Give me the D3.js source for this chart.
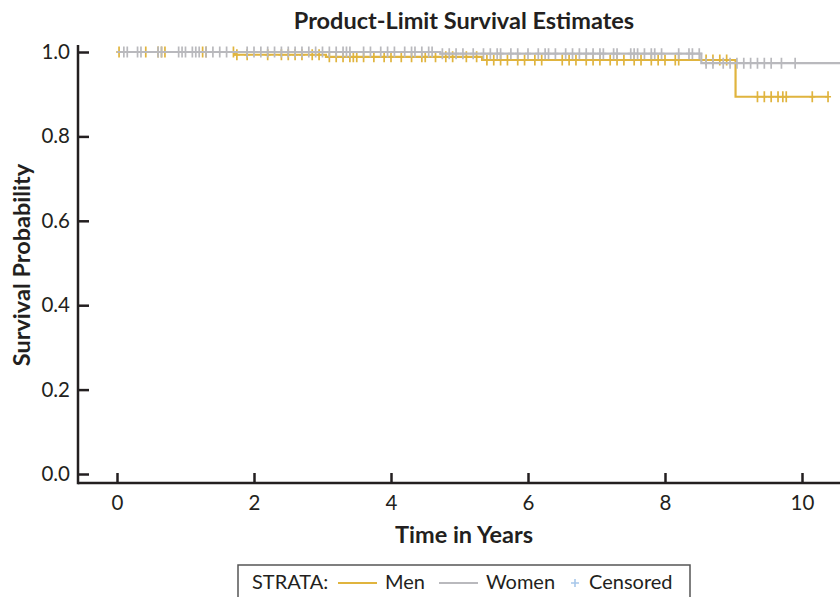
<!DOCTYPE html>
<html>
<head>
<meta charset="utf-8">
<script src="https://cdn.jsdelivr.net/npm/d3@7"></script>
<style>
  html, body { margin: 0; padding: 0; background: #fff; }
  svg { display: block; font-family: Lato, "Open Sans", sans-serif; }
</style>
</head>
<body>
<svg id="chart" width="840" height="597"></svg>
<script>
// Kaplan-Meier step estimates per stratum (time in years, survival after the event)
const menEventTimes = [1.72, 3.05, 5.33, 9.03];
const menSurvival = [0.9935, 0.9885, 0.981, 0.894];
const menLastTime = 10.38;

const womenEventTimes = [4.72, 8.53];
const womenSurvival = [0.996, 0.9735];
const womenLastTime = 10.62;

// Censored observation times
const menCensored = [0.03, 0.42, 0.6, 0.65, 0.7, 1.25, 1.3, 1.7,
  1.75, 1.9, 2.2, 2.4, 2.5, 2.6, 2.7, 2.85, 2.95, 3.1, 3.2, 3.3, 3.4, 3.45,
  3.5, 3.6, 3.75, 3.9, 4.0, 4.15, 4.3, 4.45, 4.5, 4.65, 4.8, 4.9, 5.1, 5.25,
  5.4, 5.5, 5.6, 5.7, 5.85, 5.95, 6.1, 6.2, 6.5, 6.6, 6.7, 6.85, 6.95,
  7.05, 7.2, 7.3, 7.4, 7.55, 7.65, 7.8, 7.9, 8.0, 8.15, 8.2, 8.6, 8.7, 8.8, 8.9,
  9.35, 9.45, 9.55, 9.65, 9.72, 9.77, 10.15, 10.38];
const womenCensored = [0.1, 0.15, 0.3, 0.35, 0.6, 0.65, 0.9, 0.95, 1.0, 1.1, 1.15, 1.2,
  1.3, 1.4, 1.5, 1.6, 1.9, 2.0, 2.1, 2.2, 2.3, 2.4, 2.5, 2.6, 2.7, 2.8, 2.9, 3.0,
  3.1, 3.2, 3.3, 3.35, 3.4, 3.6, 3.7, 3.85, 3.95, 4.05, 4.2, 4.3, 4.35, 4.45, 4.55,
  4.6, 4.75, 4.85, 4.95, 5.05, 5.2, 5.35, 5.45, 5.55, 5.6, 5.75, 5.85, 6.0, 6.15,
  6.25, 6.3, 6.4, 6.55, 6.65, 6.75, 6.85, 6.95, 7.05, 7.1, 7.25, 7.3, 7.5, 7.55,
  7.6, 7.7, 7.8, 7.85, 7.95, 8.2, 8.35, 8.4, 8.5, 8.6, 8.7, 8.85, 8.95, 9.05, 9.15,
  9.25, 9.35, 9.45, 9.55, 9.7, 9.9, 10.62];

const xTicks = [0, 2, 4, 6, 8, 10];
const yTicks = [0.0, 0.2, 0.4, 0.6, 0.8, 1.0];

const colors = { men: "#E0B43E", women: "#B9B9BD", censor: "#A8C8EA", axis: "#231F20" };

const svg = d3.select("#chart");
const x = d3.scaleLinear().domain([0, 10]).range([117, 802]);
const y = d3.scaleLinear().domain([0, 1]).range([474, 52]);
const axisX = 78, axisY = 483;

// Axes: lines with inward ticks
const gx = svg.append("g").attr("transform", `translate(0,${axisY})`)
  .call(d3.axisBottom(x).tickValues(xTicks).tickSize(-10).tickPadding(12).tickFormat(d3.format("d")));
const gy = svg.append("g").attr("transform", `translate(${axisX},0)`)
  .call(d3.axisLeft(y).tickValues(yTicks).tickSize(-11).tickPadding(8).tickFormat(d3.format(".1f")));
[gx, gy].forEach(g => {
  g.select(".domain").remove();
  g.selectAll(".tick line").attr("stroke", colors.axis).attr("stroke-width", 2.5);
  g.selectAll(".tick text").attr("fill", colors.axis).style("font-size", "20.5px")
    .style("font-family", "Lato, 'Open Sans', sans-serif");
});
svg.append("line").attr("x1", axisX).attr("x2", 860).attr("y1", axisY).attr("y2", axisY)
  .attr("stroke", colors.axis).attr("stroke-width", 2.5);
svg.append("line").attr("x1", axisX).attr("x2", axisX).attr("y1", 45).attr("y2", axisY + 1.25)
  .attr("stroke", colors.axis).attr("stroke-width", 2.5);

// Step curves
function stepPoints(times, surv, last) {
  const pts = [[0, 1]];
  times.forEach((t, i) => pts.push([t, surv[i]]));
  pts.push([last, surv[surv.length - 1]]);
  return pts;
}
function survAt(times, surv, t) {
  let s = 1;
  times.forEach((e, i) => { if (e <= t) s = surv[i]; });
  return s;
}
const line = d3.line().x(d => x(d[0])).y(d => y(d[1])).curve(d3.curveStepAfter);

const strata = [
  { key: "men", times: menEventTimes, surv: menSurvival, last: menLastTime, cens: menCensored },
  { key: "women", times: womenEventTimes, surv: womenSurvival, last: womenLastTime, cens: womenCensored }
];

strata.forEach(s => {
  const g = svg.append("g");
  g.append("path").attr("d", line(stepPoints(s.times, s.surv, s.last)))
    .attr("fill", "none").attr("stroke", colors[s.key]).attr("stroke-width", 2.2);
  g.selectAll("path.cens").data(s.cens).join("path").attr("class", "cens")
    .attr("d", t => {
      const cx = x(t), cy = y(survAt(s.times, s.surv, t));
      return `M${cx - 3},${cy}H${cx + 3}M${cx},${cy - 5.5}V${cy + 5.5}`;
    })
    .attr("stroke", colors[s.key]).attr("stroke-width", 1.7).attr("fill", "none");
});

// Titles
svg.append("text").attr("x", 464).attr("y", 29).attr("text-anchor", "middle")
  .style("font-size", "23.5px").style("font-weight", "bold").attr("fill", colors.axis)
  .text("Product-Limit Survival Estimates");
svg.append("text").attr("x", 464).attr("y", 543).attr("text-anchor", "middle")
  .style("font-size", "23.5px").style("font-weight", "bold").attr("fill", colors.axis)
  .text("Time in Years");
svg.append("text").attr("transform", "translate(30,265) rotate(-90)").attr("text-anchor", "middle")
  .style("font-size", "23.5px").style("font-weight", "bold").attr("fill", colors.axis)
  .text("Survival Probability");

// Legend
const lg = svg.append("g");
lg.append("rect").attr("x", 238).attr("y", 565).attr("width", 452).attr("height", 50)
  .attr("fill", "none").attr("stroke", "#555").attr("stroke-width", 1.5);
const ly = 589;
const fs = "20px";
lg.append("text").attr("x", 252).attr("y", ly).style("font-size", fs).attr("fill", colors.axis).text("STRATA:");
lg.append("line").attr("x1", 338).attr("x2", 377).attr("y1", 583).attr("y2", 583)
  .attr("stroke", colors.men).attr("stroke-width", 2);
lg.append("text").attr("x", 385).attr("y", ly).style("font-size", fs).attr("fill", colors.axis).text("Men");
lg.append("line").attr("x1", 439).attr("x2", 478).attr("y1", 583).attr("y2", 583)
  .attr("stroke", colors.women).attr("stroke-width", 2);
lg.append("text").attr("x", 486).attr("y", ly).style("font-size", fs).attr("fill", colors.axis).text("Women");
lg.append("path").attr("d", "M571,583H579M575,579V587").attr("stroke", colors.censor).attr("stroke-width", 1.6);
lg.append("text").attr("x", 589).attr("y", ly).style("font-size", fs).attr("fill", colors.axis).text("Censored");
</script>
</body>
</html>
